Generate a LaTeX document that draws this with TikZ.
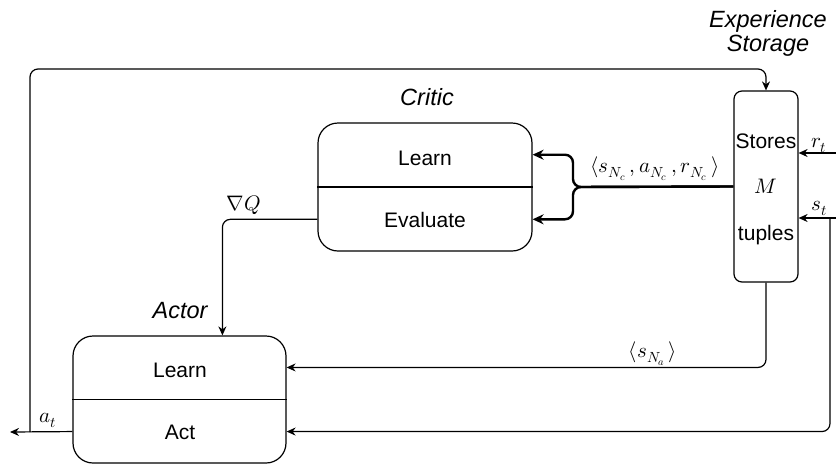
\documentclass[tikz,border=0pt]{standalone}
\usepackage{fontspec}
\usepackage{unicode-math}
\setmainfont{Liberation Sans}
\setmathfont{Latin Modern Math}
\usetikzlibrary{arrows.meta,calc}
\begin{document}
\begin{tikzpicture}[x=1pt,y=-1pt,
  line width=1.2pt,
  >={Stealth[length=9pt,width=8pt]},
  box/.style={draw, rounded corners=20pt, minimum width=214pt, minimum height=128pt, inner sep=0pt},
  lbl/.style={font=\fontsize{21}{25}\selectfont, inner sep=0pt, anchor=base},
  ttl/.style={font=\fontsize{23.5}{27}\selectfont\itshape, inner sep=0pt, anchor=base},
  conn/.style={->, rounded corners=8pt},
  thickconn/.style={-{Stealth[length=11pt,width=10pt]}, line width=2.4pt, rounded corners=8pt},
]
\useasboundingbox (0,0) rectangle (836,467);

% boxes
\node[box] (critic) at (425,187) {};
\node[box, minimum width=213pt, minimum height=127pt] (actor) at (179.5,399.5) {};
\node[draw, rounded corners=8pt, minimum width=64pt, minimum height=191pt, inner sep=0pt] (storage) at (766,186.5) {};
\draw (critic.west) -- (critic.east);
\draw (actor.west) -- (actor.east);

% texts
\node[lbl] (clearn) at (425,165) {Learn};
\node[lbl] (ceval) at (425,227) {Evaluate};
\node[lbl] (alearn) at (180,377) {Learn};
\node[lbl] (aact) at (180,439) {Act};
\node[ttl] (critict) at (427,105) {Critic};
\node[ttl] (actort) at (180,318) {Actor};
\node[ttl] (exper) at (768,27) {Experience};
\node[ttl] (storg) at (768,51) {Storage};
\node[lbl] (stores) at (766,148) {Stores};
\node[lbl] (mm) at (766,193) {$M$};
\node[lbl] (tuples) at (766,240) {tuples};

% ports
\coordinate (aw) at ($(actor.south west)!0.25!(actor.north west)$);
\coordinate (aeL) at ($(actor.north east)!0.25!(actor.south east)$);
\coordinate (aeA) at ($(actor.south east)!0.25!(actor.north east)$);
\coordinate (ceL) at ($(critic.north east)!0.25!(critic.south east)$);
\coordinate (ceE) at ($(critic.south east)!0.25!(critic.north east)$);
\coordinate (cw) at ($(critic.south west)!0.25!(critic.north west)$);
\path (actor.north west) ++(150,0) coordinate (aq);
\coordinate (atend) at (10,432);
\coordinate (fbstart) at (30,432);
\coordinate (fbtop) at (30,69);
\coordinate (rtin) at (836,153);
\coordinate (stin) at (836,218);
\coordinate (stright) at (830,218);
\coordinate (brace) at (573,187);

% connectors
\draw[->] (aw) -- (atend);
\draw[conn] (fbstart) -- (fbtop) -| (storage.north);
\draw[conn] (storage.south) |- (aeL);
\draw[->] (rtin) -- (rtin -| storage.east);
\draw[->] (stin) -- (stin -| storage.east);
\draw[conn] (stright) |- (aeA);
\draw[conn] (cw) -| (aq);
\draw[thickconn] (storage.west) -- (brace) |- (ceL);
\draw[thickconn] (storage.west) -- (brace) |- (ceE);

% labels
\node[lbl] (atl) at (48,422) {$a_t$};
\node[lbl] (rtl) at (819,147) {$r_t$};
\node[lbl] (stl) at (819,210) {$s_t$};
\node[lbl] (gql) at (244,210) {$\nabla Q$};
\node[lbl] (snal) at (653,357) {$\langle s_{N_a}\,\rangle$};
\node[lbl] (tupl) at (655,172) {$\langle s_{N_c}\,, a_{N_c}\,, r_{N_c}\,\rangle$};
\end{tikzpicture}
\end{document}
